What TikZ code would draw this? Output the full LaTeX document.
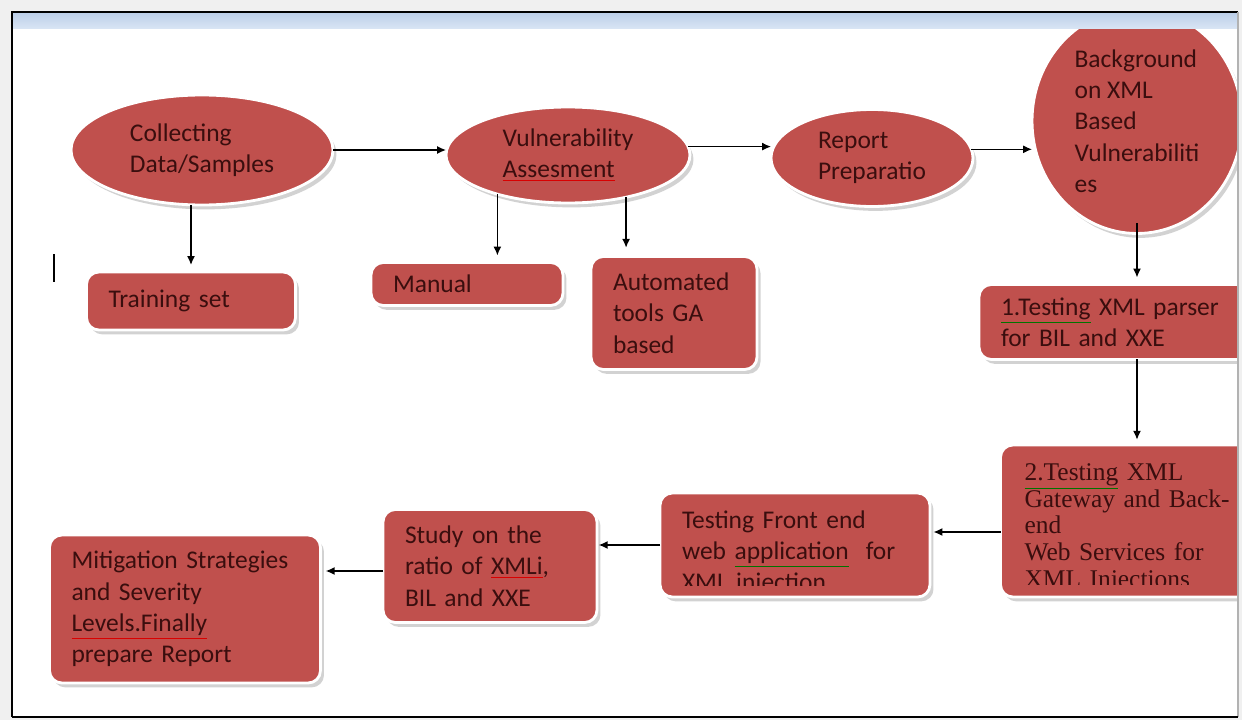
\documentclass[tikz,border=0pt]{standalone}
\usepackage{fontspec}
\setmainfont{Carlito}
\newfontfamily\gwfont{Liberation Serif}
\usetikzlibrary{shapes,shadows,calc,arrows.meta}
\definecolor{boxred}{HTML}{C0504D}
\definecolor{txtdark}{HTML}{3A0E0E}
\definecolor{bartop}{RGB}{188,207,232}
\definecolor{barbot}{RGB}{216,228,244}
\newcommand{\redline}[1]{{\color{red!85!black}\underline{\color{txtdark}#1}}}
\newcommand{\greenline}[1]{{\color{green!45!black}\underline{\color{txtdark}#1}}}

\begin{document}
\begin{tikzpicture}[>={Latex[length=5pt,width=4.5pt]},thick,
x=0.02cm,y=-0.02cm]

\tikzstyle{ell}=[ellipse, fill=boxred, draw=white, line width=1.6pt,
inner sep=0pt, outer sep=0pt, align=left, text=txtdark,
font=\fontsize{14.5}{17.8}\selectfont,
drop shadow={shadow xshift=2pt,shadow yshift=-2.5pt,fill=black!35}]

\tikzstyle{box}=[rectangle, rounded corners=7pt, fill=boxred, draw=white,
line width=1.6pt, inner xsep=0.44cm, inner ysep=0pt, outer sep=0pt,
align=left, text=txtdark, font=\fontsize{14.5}{17.8}\selectfont,
drop shadow={shadow xshift=2pt,shadow yshift=-2.5pt,fill=black!35}]

\tikzstyle{txt}=[inner xsep=0.44cm, inner ysep=0pt, align=left,
text=txtdark, font=\fontsize{14.5}{17.8}\selectfont]

\useasboundingbox (0,0) rectangle (1242,720);
\fill[black!6] (0,0) rectangle (1242,720);
\fill[white] (12,12) rectangle (1238,717);

\begin{scope}
\clip (13,28) rectangle (1237,716);

%top row
\node[ell, minimum width=5.24cm, minimum height=2.2cm]
(collect) at (202,150)
{Collecting\\Data/Samples};

\node[ell, minimum width=4.88cm, minimum height=1.92cm]
(vuln) at (568,155)
{Vulnerability\\\redline{Assesment}};

\node[ell, minimum width=4.04cm, minimum height=1.94cm]
(report) at (872,158)
{Report\\Preparatio};

\node[ell, minimum width=4.2cm, minimum height=4.5cm]
(backgr) at (1137,121)
{Background\\on XML\\Based\\Vulnerabiliti\\es};

\node[box, minimum width=4.18cm, minimum height=1.16cm, text width=3.3cm]
(train) at (191,301)
{Training set};

\node[box, minimum width=3.84cm, minimum height=0.86cm, text width=2.96cm]
(manual) at (467,284)
{Manual};

\node[box, minimum width=3.32cm, minimum height=2.26cm, text width=2.44cm]
(auto) at (674,313)
{Automated\\tools GA\\based};

\node[box, minimum width=6.2cm, minimum height=1.5cm, text width=5.32cm]
(parser) at (1134,322)
{\greenline{1.Testing} XML parser\\for BIL and XXE};

%bottom row
\node[box, minimum width=5.78cm, minimum height=3.04cm]
(gateway) at (1145,521)
{};

\node[box, minimum width=5.4cm, minimum height=2.08cm]
(front) at (795,545)
{};

\node[box, minimum width=4.28cm, minimum height=2.26cm, text width=3.4cm]
(study) at (490,566)
{Study on the\\ratio of \redline{XMLi},\\BIL and XXE};

\node[box, minimum width=5.42cm, minimum height=2.96cm, text width=4.54cm]
(mitig) at (185,609)
{Mitigation Strategies\\and Severity\\\redline{Levels.Finally}\\prepare Report};

\begin{scope}
\clip (gateway.north west) rectangle ($(gateway.east)+(200,63)$);
\node[txt, text width=4.82cm, inner xsep=0.48cm,
font=\gwfont\fontsize{14.5}{15.2}\selectfont]
(gateway-txt) at ($(gateway.center)+(0,7)$)
{\greenline{2.Testing} XML\\Gateway and Back-\\end\\Web Services for\\XML Injections};
\end{scope}

\begin{scope}
\clip (front.north west) rectangle ($(front.east)+(0,40)$);
\node[txt, text width=4.52cm]
(front-txt) at ($(front.center)+(0,8)$)
{Testing Front end\\web \greenline{application}\ \ for\\XML injection};
\end{scope}

\coordinate (gw-out) at ($(gateway.west)+(0,11)$);
\coordinate (st-out) at ($(study.west)+(0,5)$);

\path[->] (collect.east) edge (collect.east -| vuln.west);
\path[->] (vuln.4) edge (vuln.4 -| report.west);
\path[->] (report.5) edge (report.5 -| backgr.west);
\path[->] (collect.south -| train.north) edge[shorten >=4pt] (train.north);
\path[->] (vuln.-151) edge[shorten >=4pt] (vuln.-151 |- manual.north);
\path[->] (vuln.-36) edge[shorten >=5pt] (vuln.-36 |- auto.north);
\path[->] (backgr.south) edge[shorten <=-0.2cm, shorten >=4pt] (backgr.south |- parser.north);
\path[->] (backgr.south |- parser.south) edge[shorten >=3pt] (backgr.south |- gateway.north);
\path[->] (gw-out) edge[shorten >=2pt] (gw-out -| front.east);
\path[->] (front.west) edge[shorten >=1pt] (front.west -| study.east);
\path[->] (st-out) edge[shorten >=3pt] (st-out -| mitig.east);

\draw[line width=1.3pt] (54,254) -- (54,282);
\end{scope}

\shade[top color=bartop, bottom color=barbot] (13,13) rectangle (1237,28);
\draw[line width=1.4pt] (12,717) -- (12,12) -- (1238,12);
\draw[black!30, line width=1pt] (1238,12) -- (1238,717);
\draw[line width=1.4pt] (12,717) -- (1238,717);

\end{tikzpicture}
\end{document}
